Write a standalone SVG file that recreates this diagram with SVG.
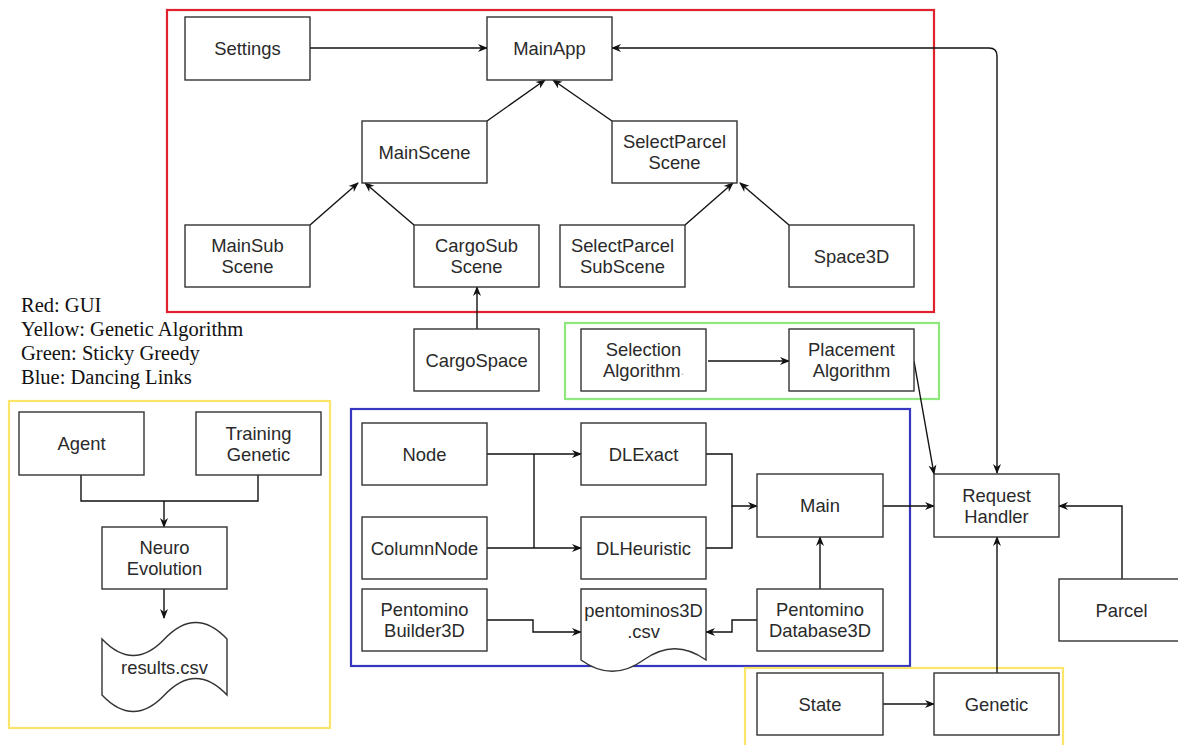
<svg xmlns="http://www.w3.org/2000/svg" width="1178" height="745" viewBox="0 0 1178 745">
<style>
.bg{fill:#fff}
.box{fill:#fff;stroke:#333;stroke-width:1.4}
.t{font-family:"Liberation Sans",Arial,sans-serif;font-size:18.4px;fill:#2a2a2a;text-anchor:middle;dominant-baseline:central}
.leg{font-family:"Liberation Serif","Times New Roman",serif;font-size:20.5px;fill:#111}
.grp{fill:none;stroke-width:2.2}
.e{fill:none;stroke:#111;stroke-width:1.4;marker-end:url(#ah)}
.l{fill:none;stroke:#111;stroke-width:1.4}
</style>
<defs>
<marker id="ah" viewBox="0 0 10 10" refX="9" refY="5" markerWidth="10" markerHeight="10" markerUnits="userSpaceOnUse" orient="auto-start-reverse">
<path d="M0,1 L10,5 L0,9 L3,5 z" fill="#111"/>
</marker>
</defs>
<rect class="bg" x="0" y="0" width="1178" height="745"/>

<g id="groups">
<rect class="grp" x="167" y="10" width="767" height="302" stroke="#e0212e"/>
<rect class="grp" x="565" y="323" width="374" height="76" stroke="#8fe87e"/>
<rect class="grp" x="351" y="409" width="559" height="257" stroke="#3636c0"/>
<rect class="grp" x="9" y="401" width="321" height="327" stroke="#fbe46a"/>
<rect class="grp" x="745" y="668" width="318" height="92" stroke="#fbe46a"/>
</g>

<g id="legend">
<text class="leg" x="21" y="312">Red: GUI</text>
<text class="leg" x="21" y="336">Yellow: Genetic Algorithm</text>
<text class="leg" x="21" y="360">Green: Sticky Greedy</text>
<text class="leg" x="21" y="384">Blue: Dancing Links</text>
</g>

<g id="connectors">
<path class="e" d="M310,48 H487"/>
<path class="e" d="M997,473 V56 Q997,48 989,48 H612" marker-start="url(#ah)"/>
<path class="e" d="M487,121 L545,80"/>
<path class="e" d="M612,121 L553,80"/>
<path class="e" d="M310,225 L358,183"/>
<path class="e" d="M414,225 L365,183"/>
<path class="e" d="M685,225 L733,183"/>
<path class="e" d="M789,225 L740,183"/>
<path class="e" d="M477,329 V287"/>
<path class="e" d="M708,361 H789"/>
<path class="e" d="M914,361 L934,474"/>
<path class="e" d="M487,454 H581"/>
<path class="e" d="M487,548 H581"/>
<path class="l" d="M534,454 V548"/>
<path class="e" d="M706,454 H732 V506 H757"/>
<path class="l" d="M706,548 H732 V506"/>
<path class="e" d="M487,620 H533 V632 H581"/>
<path class="e" d="M757,620 H732 V632 H706"/>
<path class="e" d="M820,589 V537"/>
<path class="e" d="M883,506 H934"/>
<path class="e" d="M1122,579 V506 H1059"/>
<path class="e" d="M883,704 H934"/>
<path class="e" d="M997,673 V537"/>
<path class="l" d="M81,475 V501 H258 V475"/>
<path class="e" d="M164,501 V527"/>
<path class="e" d="M164,589 V618"/>
</g>

<g id="n-settings"><rect class="box" x="185" y="17" width="125" height="63"/><text class="t" x="247.5" y="48.5">Settings</text></g>
<g id="n-mainapp"><rect class="box" x="487" y="17" width="125" height="63"/><text class="t" x="549.5" y="48.5">MainApp</text></g>
<g id="n-mainscene"><rect class="box" x="362" y="121" width="125" height="62"/><text class="t" x="424.5" y="152">MainScene</text></g>
<g id="n-selectparcelscene"><rect class="box" x="612" y="121" width="125" height="62"/><text class="t" x="674.5" y="141.5">SelectParcel</text><text class="t" x="674.5" y="162.5">Scene</text></g>
<g id="n-mainsubscene"><rect class="box" x="185" y="225" width="125" height="62"/><text class="t" x="247.5" y="245.5">MainSub</text><text class="t" x="247.5" y="266.5">Scene</text></g>
<g id="n-cargosubscene"><rect class="box" x="414" y="225" width="125" height="62"/><text class="t" x="476.5" y="245.5">CargoSub</text><text class="t" x="476.5" y="266.5">Scene</text></g>
<g id="n-selectparcelsubscene"><rect class="box" x="560" y="225" width="125" height="62"/><text class="t" x="622.5" y="245.5">SelectParcel</text><text class="t" x="622.5" y="266.5">SubScene</text></g>
<g id="n-space3d"><rect class="box" x="789" y="225" width="125" height="62"/><text class="t" x="851.5" y="256">Space3D</text></g>
<g id="n-cargospace"><rect class="box" x="414" y="329" width="125" height="62"/><text class="t" x="476.5" y="360">CargoSpace</text></g>
<g id="n-selection"><rect class="box" x="581" y="329" width="125" height="62"/><text class="t" x="643.5" y="349.5">Selection</text><text class="t" x="643.5" y="370.5">Algorithm<tspan fill="#aaa" font-size="12px">.</tspan></text></g>
<g id="n-placement"><rect class="box" x="789" y="329" width="125" height="62"/><text class="t" x="851.5" y="349.5">Placement</text><text class="t" x="851.5" y="370.5">Algorithm</text></g>
<g id="n-node"><rect class="box" x="362" y="423" width="125" height="62"/><text class="t" x="424.5" y="454">Node</text></g>
<g id="n-dlexact"><rect class="box" x="581" y="423" width="125" height="62"/><text class="t" x="643.5" y="454">DLExact</text></g>
<g id="n-columnnode"><rect class="box" x="362" y="517" width="125" height="62"/><text class="t" x="424.5" y="548">ColumnNode</text></g>
<g id="n-dlheuristic"><rect class="box" x="581" y="517" width="125" height="62"/><text class="t" x="643.5" y="548">DLHeuristic</text></g>
<g id="n-main"><rect class="box" x="757" y="474" width="126" height="63"/><text class="t" x="820" y="505.5">Main</text></g>
<g id="n-builder"><rect class="box" x="362" y="589" width="125" height="62"/><text class="t" x="424.5" y="609.5">Pentomino</text><text class="t" x="424.5" y="630.5">Builder3D</text></g>
<g id="n-pentocsv"><path class="box" d="M581,589 H706 V660 Q674.75,637.4 643.5,660 Q612.25,682.6 581,660 Z"/><text class="t" x="643.5" y="610">pentominos3D</text><text class="t" x="643.5" y="631">.csv</text></g>
<g id="n-database"><rect class="box" x="757" y="589" width="126" height="62"/><text class="t" x="820" y="609.5">Pentomino</text><text class="t" x="820" y="630.5">Database3D</text></g>
<g id="n-requesthandler"><rect class="box" x="934" y="474" width="125" height="63"/><text class="t" x="996.5" y="495">Request</text><text class="t" x="996.5" y="516">Handler</text></g>
<g id="n-parcel"><rect class="box" x="1059" y="579" width="125" height="62"/><text class="t" x="1121.5" y="610">Parcel</text></g>
<g id="n-state"><rect class="box" x="757" y="673" width="126" height="62"/><text class="t" x="820" y="704">State</text></g>
<g id="n-genetic"><rect class="box" x="934" y="673" width="125" height="62"/><text class="t" x="996.5" y="704">Genetic</text></g>
<g id="n-agent"><rect class="box" x="19" y="412" width="125" height="63"/><text class="t" x="81.5" y="443.5">Agent</text></g>
<g id="n-training"><rect class="box" x="196" y="412" width="125" height="63"/><text class="t" x="258.5" y="433">Training</text><text class="t" x="258.5" y="454">Genetic</text></g>
<g id="n-neuro"><rect class="box" x="102" y="527" width="125" height="62"/><text class="t" x="164.5" y="547.5">Neuro</text><text class="t" x="164.5" y="568.5">Evolution</text></g>
<g id="n-results"><path class="box" d="M102,639 Q133.25,672 164.5,639 Q195.75,606 227,639 V695 Q195.75,662 164.5,695 Q133.25,728 102,695 Z"/><text class="t" x="164.5" y="667">results.csv</text></g>
</svg>
